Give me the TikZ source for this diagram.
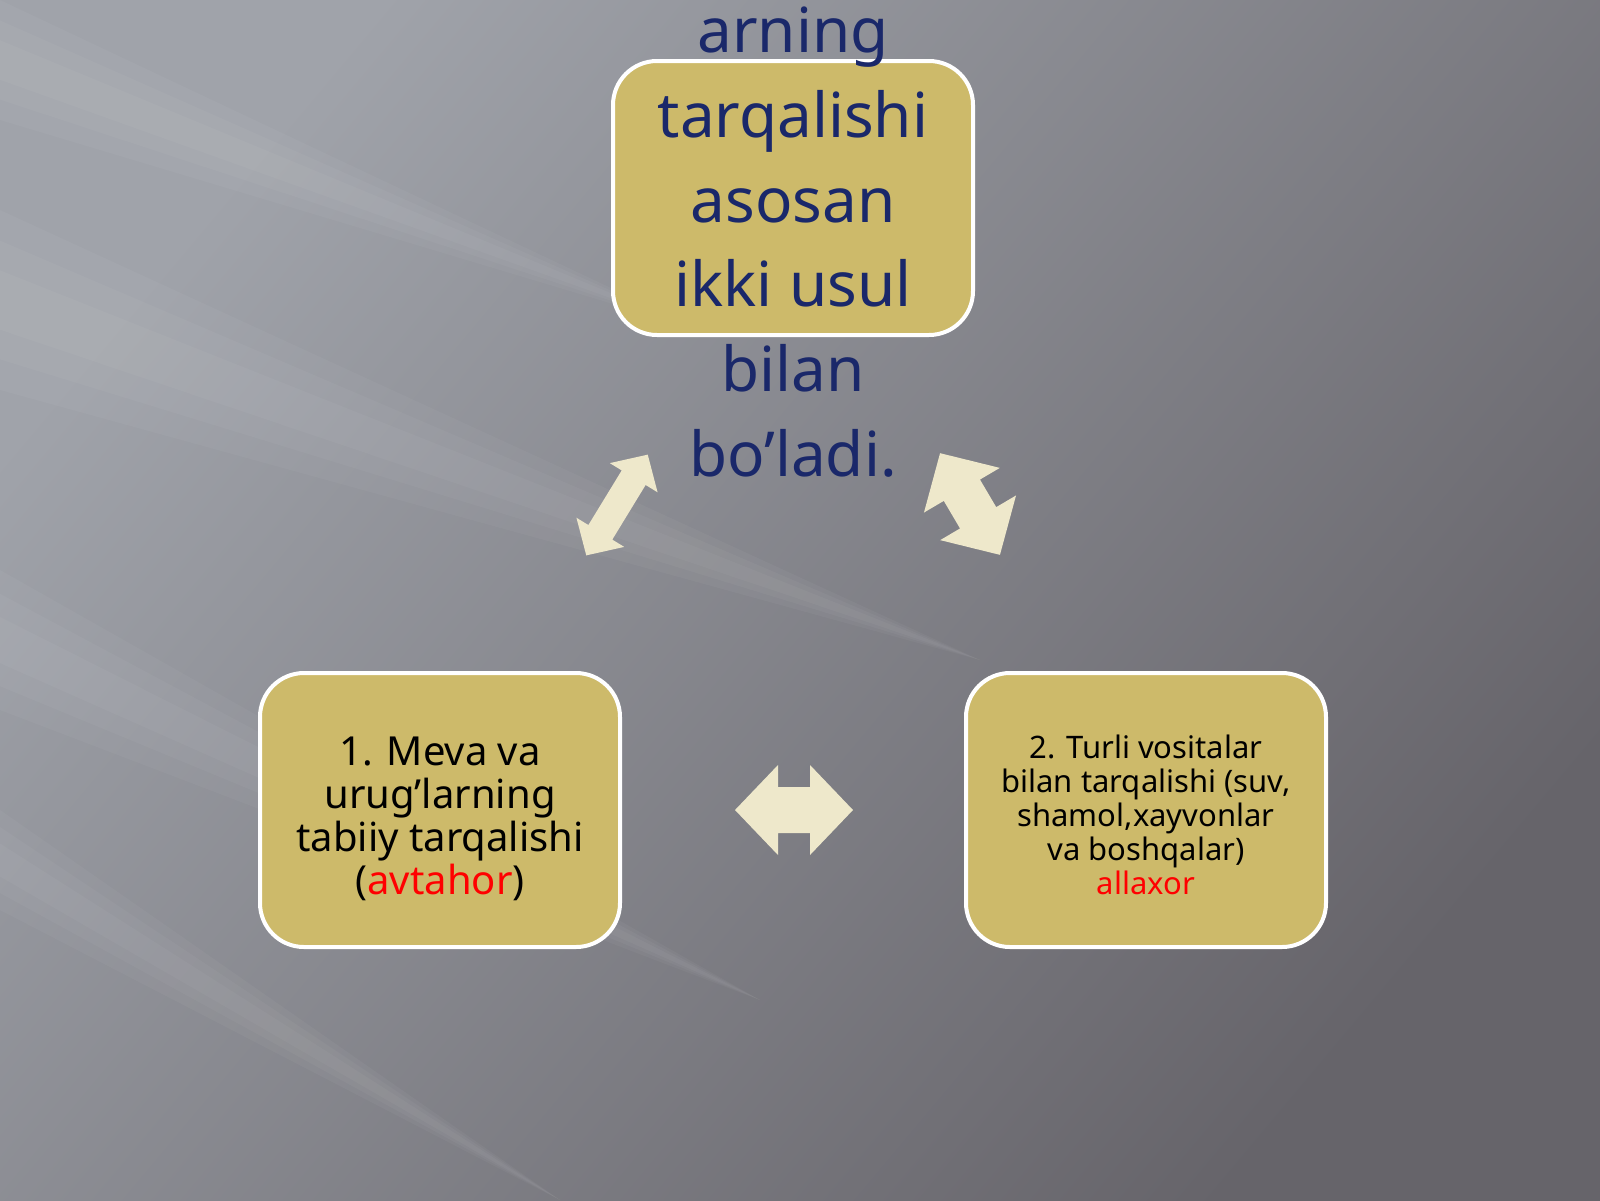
\documentclass[tikz,border=0pt]{standalone}
\usepackage{fontspec}
\setmainfont{Noto Sans}
\definecolor{boxgold}{RGB}{205,186,106}
\definecolor{arrowcream}{RGB}{238,232,203}
\definecolor{titleblue}{RGB}{26,40,106}
\definecolor{slate}{RGB}{102,100,106}
\definecolor{bglight}{RGB}{160,163,170}
\begin{document}
\begin{tikzpicture}[x=0.5pt, y=-0.5pt, card/.style={rectangle, rounded corners=22pt, fill=boxgold, draw=white, line width=2pt, minimum width=180pt, minimum height=137pt}, cardtext/.style={align=center, inner sep=0pt}, twoway/.style={fill=arrowcream}]
       \useasboundingbox (0,0) rectangle (1600,1200);
       % background with soft light streaks
       \shade[top color=bglight, bottom color=slate, shading angle=50] (0,0) rectangle (1600,1200);
       \foreach \ya/\xe/\ye/\hw in {300/980/660/90, 640/760/1000/70, 860/560/1200/50, 60/700/330/60}{ \foreach \f in {1,0.66,0.33}{ \fill[white, opacity=0.035] (0,\ya-\f*\hw) -- (\xe,\ye) -- (0,\ya+\f*\hw) -- cycle; }}

       \node[card] (topbox) at (793,198) {};
       \node[card] (natural) at (440,810) {};
       \node[card] (agents) at (1146,810) {};
       \node[cardtext, font=\fontsize{20pt}{21.6pt}\selectfont] (naturaltext) at ([yshift=-4.5pt]natural.center) {1. Meva va\\ urug’larning\\ tabiiy tarqalishi\\ (\textcolor{red}{avtahor})};
       \node[cardtext, font=\fontsize{15.5pt}{17pt}\selectfont] (agentstext) at ([yshift=-2.5pt]agents.center) {2. Turli vositalar\\ bilan tarqalishi (suv,\\ shamol,xayvonlar\\ va boshqalar)\\ \textcolor{red}{allaxor}};
       \node[cardtext, text=titleblue, font=\fontsize{31pt}{42.4pt}\selectfont] (heading) at (793,242) {arning\\ tarqalishi\\ asosan\\ ikki usul\\ bilan\\ bo’ladi.};

       \foreach \cx/\cy/\ang/\hb/\hw/\sw in {794/810/0/16/45/23, 617/505/58.6/32/28/14, 970/504/-59.5/16/44/21}{ \fill[twoway, shift={(\cx,\cy)}, rotate=\ang] (-59,0) -- (-\hb,\hw) -- (-\hb,\sw) -- (\hb,\sw) -- (\hb,\hw) -- (59,0) -- (\hb,-\hw) -- (\hb,-\sw) -- (-\hb,-\sw) -- (-\hb,-\hw) -- cycle; }
     \end{tikzpicture}
\end{document}
